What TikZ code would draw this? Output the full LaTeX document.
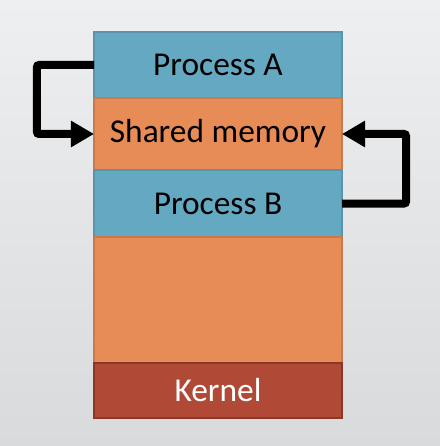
\documentclass[tikz,border=0pt]{standalone}
\usepackage{fontspec}
\setmainfont{Carlito}
\usepackage{tikz}
\usetikzlibrary{positioning,arrows.meta}

\definecolor{bgtop}{HTML}{EEEFF0}
\definecolor{bgbot}{HTML}{D8DADC}
\definecolor{procfill}{HTML}{65A8C1}
\definecolor{procline}{HTML}{5A93AC}
\definecolor{memfill}{HTML}{E78C57}
\definecolor{memline}{HTML}{C97A4C}
\definecolor{kernfill}{HTML}{B04A36}
\definecolor{kernline}{HTML}{8C3627}

\begin{document}
\begin{tikzpicture}[x=1bp,y=1bp]
\tikzstyle{layer}=[rectangle, draw, line width=1.5bp, outer sep=0pt,
    minimum width=248bp, font=\fontsize{33.5}{40}\selectfont]
\tikzstyle{proc}=[layer, fill=procfill, draw=procline]
\tikzstyle{mem}=[layer, fill=memfill, draw=memline]
\tikzstyle{flow}=[line width=8bp, rounded corners=2bp,
    -{Triangle[length=23bp,width=25bp]}]

% background
\shade[top color=bgtop, bottom color=bgbot] (0,0) rectangle (440,-446);
\useasboundingbox (0,0) rectangle (440,-446);

    \node[proc, minimum height=66bp] (pa) at (218,-65) {Process A};
    \node[mem, minimum height=72bp, below=0pt of pa] (shm) {Shared memory};
    \node[proc, minimum height=67bp, below=0pt of shm] (pb) {Process B};
    \node[mem, minimum height=126bp, below=0pt of pb] (free) {};
    \node[layer, fill=kernfill, draw=kernline, text=white,
    minimum height=55bp, below=0pt of free] (kern) {Kernel};

\draw[flow] (pa.west) -- ++(-57,0) |- (shm.west);
\draw[flow] (pb.east) -- ++(64,0) |- (shm.east);
\end{tikzpicture}
\end{document}
